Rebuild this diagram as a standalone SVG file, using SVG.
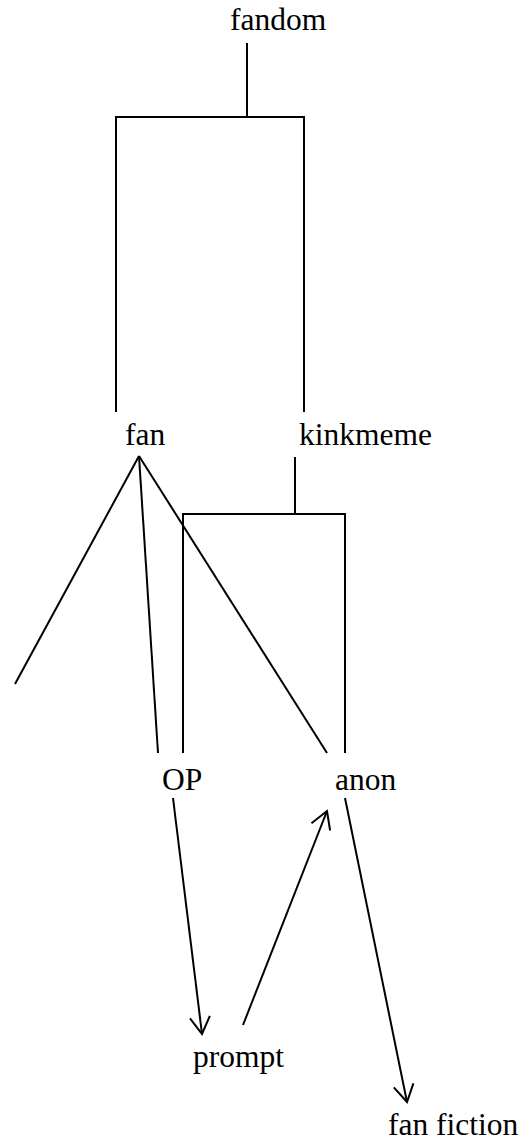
<svg xmlns="http://www.w3.org/2000/svg" width="521" height="1140" viewBox="0 0 521 1140">
  <style>
    text { font-family: 'Liberation Serif', 'DejaVu Serif', serif; font-size: 31.5px; fill: #000; }
    .edge { fill: none; stroke: #000; stroke-width: 2; }
  </style>
  <defs>
    <marker id="open-arrow" markerUnits="userSpaceOnUse" markerWidth="24" markerHeight="24" viewBox="-20 -12 24 24" refX="0" refY="0" orient="auto">
      <path d="M-17,-10 L0,0 L-17,10" fill="none" stroke="#000" stroke-width="2"/>
    </marker>
  </defs>

  <g id="connectors">
    <!-- fandom splits into fan and kinkmeme -->
    <polyline class="edge" points="247,43 247,117"/>
    <polyline class="edge" points="116,412 116,117 304,117 304,412"/>
    <!-- kinkmeme splits into OP and anon -->
    <polyline class="edge" points="295,457 295,514"/>
    <polyline class="edge" points="183,753 183,514 345,514 345,753"/>
    <!-- fan fans out -->
    <line class="edge" x1="139" y1="456" x2="15" y2="684"/>
    <line class="edge" x1="139" y1="456" x2="158" y2="753"/>
    <line class="edge" x1="139" y1="456" x2="327" y2="753"/>
    <!-- directed flows -->
    <line class="edge" x1="173" y1="798" x2="202" y2="1034" marker-end="url(#open-arrow)"/>
    <line class="edge" x1="243" y1="1025" x2="327" y2="811" marker-end="url(#open-arrow)"/>
    <line class="edge" x1="345" y1="798" x2="407" y2="1102" marker-end="url(#open-arrow)"/>
  </g>

  <g id="node-fandom"><text x="230" y="30">fandom</text></g>
  <g id="node-fan"><text x="125" y="445">fan</text></g>
  <g id="node-kinkmeme"><text x="299" y="445">kinkmeme</text></g>
  <g id="node-op"><text x="162" y="790">OP</text></g>
  <g id="node-anon"><text x="335" y="790">anon</text></g>
  <g id="node-prompt"><text x="193" y="1067">prompt</text></g>
  <g id="node-fan-fiction"><text x="388" y="1135">fan fiction</text></g>
</svg>
